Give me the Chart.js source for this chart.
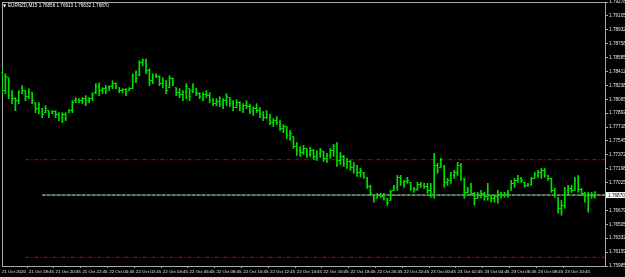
<!DOCTYPE html>
<html><head><meta charset="utf-8">
<style>html,body{margin:0;padding:0;background:#000;}#wrap{width:625px;height:277px;position:relative;background:#000;}</style>
<script src="https://cdn.jsdelivr.net/npm/chart.js@4/dist/chart.umd.min.js"></script>
</head><body><div id="wrap"><canvas id="c" width="625" height="277"></canvas></div>
<script>
const symbolTitle = "EURNZD,M15";
const timeLabels = ["21 Oct 2020","21 Oct 18:45","21 Oct 20:45","21 Oct 22:45","22 Oct 00:45","22 Oct 02:45","22 Oct 04:45","22 Oct 06:45","22 Oct 08:45","22 Oct 10:45","22 Oct 12:45","22 Oct 14:45","22 Oct 16:45","22 Oct 18:45","22 Oct 20:45","22 Oct 22:45","23 Oct 00:45","23 Oct 02:45","23 Oct 04:45","23 Oct 06:45","23 Oct 08:45","23 Oct 10:45"];
const barsPerLabel = 8;
const slotCount = 181;
const priceTicks = [1.79278,1.79105,1.78932,1.78758,1.78585,1.78412,1.78238,1.78065,1.77892,1.77718,1.77545,1.77372,1.77198,1.77025,1.76852,1.76679,1.76505,1.76332,1.76159,1.75985];
const highs = [
1.78445,1.78383,1.78333,1.78172,1.78085,1.78172,1.78234,1.78172,1.78197,1.78147,
1.78023,1.78023,1.77948,1.77985,1.77923,1.77923,1.77923,1.77898,1.77898,1.77898,
1.77936,1.78047,1.78085,1.78072,1.78085,1.78110,1.78085,1.78147,1.78259,1.78271,
1.78209,1.78234,1.78234,1.78296,1.78271,1.78209,1.78197,1.78197,1.78209,1.78383,
1.78420,1.78544,1.78569,1.78569,1.78445,1.78383,1.78383,1.78358,1.78333,1.78296,
1.78358,1.78333,1.78209,1.78197,1.78172,1.78259,1.78197,1.78259,1.78197,1.78147,
1.78147,1.78172,1.78147,1.78072,1.78072,1.78097,1.78072,1.78134,1.78085,1.78047,
1.78060,1.78035,1.78010,1.78047,1.77998,1.77973,1.78010,1.77960,1.77911,1.77923,
1.77873,1.77824,1.77849,1.77799,1.77749,1.77724,1.77675,1.77600,1.77526,1.77476,
1.77488,1.77451,1.77463,1.77439,1.77426,1.77451,1.77414,1.77389,1.77451,1.77501,
1.77526,1.77401,1.77364,1.77327,1.77302,1.77277,1.77240,1.77202,1.77153,1.77091,
1.76991,1.76867,1.76892,1.76892,1.76892,1.76830,1.76929,1.76991,1.77115,1.77115,
1.77053,1.77091,1.77028,1.76966,1.77028,1.77028,1.77016,1.77016,1.77016,1.77389,
1.77265,1.77327,1.77240,1.77078,1.77153,1.77178,1.77277,1.77265,1.77078,1.76966,
1.77016,1.76904,1.76904,1.76929,1.76904,1.77016,1.76867,1.76867,1.76929,1.76904,
1.76904,1.76929,1.77053,1.77078,1.77115,1.77091,1.77028,1.77016,1.77091,1.77153,
1.77178,1.77202,1.77202,1.77115,1.77078,1.76954,1.76842,1.76805,1.76966,1.76991,
1.76991,1.77091,1.77115,1.76954,1.76904,1.76904,1.76904,1.76913];
const lows = [
1.78134,1.78134,1.78072,1.78010,1.77923,1.78010,1.78134,1.78047,1.78072,1.78010,
1.77898,1.77886,1.77836,1.77898,1.77836,1.77886,1.77836,1.77799,1.77774,1.77799,
1.77898,1.77898,1.78023,1.78023,1.78010,1.77985,1.78023,1.78047,1.78134,1.78110,
1.78134,1.78134,1.78172,1.78197,1.78197,1.78147,1.78147,1.78110,1.78172,1.78197,
1.78271,1.78358,1.78482,1.78383,1.78234,1.78259,1.78333,1.78234,1.78209,1.78134,
1.78209,1.78234,1.78110,1.78085,1.78047,1.78072,1.78047,1.78147,1.78110,1.78072,
1.78047,1.78085,1.78023,1.77985,1.77985,1.77973,1.77948,1.77985,1.77973,1.77923,
1.77960,1.77923,1.77898,1.77948,1.77886,1.77861,1.77898,1.77836,1.77799,1.77824,
1.77749,1.77724,1.77749,1.77675,1.77650,1.77575,1.77550,1.77451,1.77364,1.77352,
1.77376,1.77339,1.77352,1.77314,1.77302,1.77339,1.77289,1.77277,1.77327,1.77352,
1.77227,1.77252,1.77227,1.77202,1.77178,1.77140,1.77103,1.77091,1.77078,1.76954,
1.76867,1.76780,1.76830,1.76842,1.76805,1.76743,1.76805,1.76929,1.76929,1.76991,
1.76966,1.77016,1.76929,1.76904,1.76929,1.76966,1.76954,1.76892,1.76842,1.76830,
1.77140,1.77215,1.76966,1.76991,1.77016,1.77078,1.77115,1.77053,1.76830,1.76892,
1.76867,1.76743,1.76830,1.76830,1.76805,1.76805,1.76780,1.76780,1.76768,1.76830,
1.76842,1.76842,1.76929,1.76966,1.77028,1.77028,1.76966,1.76979,1.76991,1.77078,
1.77091,1.77078,1.77091,1.77053,1.76904,1.76842,1.76643,1.76618,1.76705,1.76867,
1.76904,1.76929,1.76904,1.76867,1.76780,1.76656,1.76830,1.76832];
const opens = [
1.78395,1.78172,1.78333,1.78110,1.78072,1.78047,1.78147,1.78172,1.78097,1.78147,
1.78023,1.77948,1.77948,1.77898,1.77923,1.77886,1.77911,1.77873,1.77836,1.77873,
1.77898,1.77923,1.78047,1.78060,1.78047,1.78072,1.78047,1.78072,1.78147,1.78221,
1.78172,1.78197,1.78209,1.78221,1.78259,1.78209,1.78172,1.78184,1.78172,1.78197,
1.78358,1.78358,1.78520,1.78544,1.78420,1.78296,1.78358,1.78346,1.78259,1.78296,
1.78209,1.78321,1.78209,1.78147,1.78122,1.78147,1.78197,1.78172,1.78197,1.78134,
1.78097,1.78122,1.78110,1.78047,1.78010,1.78035,1.77998,1.78047,1.78085,1.78010,
1.77960,1.78023,1.77948,1.77985,1.77973,1.77911,1.77948,1.77923,1.77861,1.77836,
1.77873,1.77774,1.77799,1.77774,1.77699,1.77724,1.77612,1.77600,1.77476,1.77426,
1.77401,1.77451,1.77376,1.77426,1.77352,1.77389,1.77414,1.77327,1.77364,1.77426,
1.77476,1.77302,1.77352,1.77265,1.77289,1.77215,1.77240,1.77153,1.77153,1.77091,
1.76979,1.76867,1.76830,1.76867,1.76855,1.76830,1.76805,1.76929,1.76966,1.77091,
1.77028,1.77041,1.77028,1.76954,1.76941,1.77004,1.76991,1.76979,1.76929,1.76867,
1.77240,1.77215,1.77240,1.77028,1.77053,1.77115,1.77153,1.77240,1.77078,1.76904,
1.76929,1.76892,1.76830,1.76867,1.76892,1.76855,1.76867,1.76830,1.76855,1.76879,
1.76867,1.76879,1.76929,1.77016,1.77053,1.77078,1.77028,1.76991,1.77004,1.77078,
1.77128,1.77153,1.77178,1.77115,1.77078,1.76929,1.76842,1.76705,1.76743,1.76929,
1.76954,1.76929,1.77053,1.76941,1.76892,1.76855,1.76867,1.76856];
const closes = [
1.78172,1.78346,1.78110,1.78072,1.78047,1.78147,1.78172,1.78097,1.78147,1.78047,
1.77948,1.77998,1.77873,1.77948,1.77861,1.77911,1.77873,1.77836,1.77873,1.77824,
1.77923,1.78023,1.78060,1.78047,1.78072,1.78047,1.78072,1.78122,1.78221,1.78172,
1.78197,1.78209,1.78221,1.78259,1.78209,1.78172,1.78184,1.78147,1.78197,1.78358,
1.78321,1.78520,1.78544,1.78420,1.78296,1.78358,1.78346,1.78259,1.78296,1.78172,
1.78321,1.78246,1.78147,1.78122,1.78147,1.78221,1.78097,1.78221,1.78134,1.78097,
1.78122,1.78110,1.78047,1.78010,1.78035,1.77998,1.78047,1.78097,1.78010,1.77960,
1.78023,1.77948,1.77985,1.77973,1.77911,1.77948,1.77923,1.77861,1.77836,1.77873,
1.77774,1.77799,1.77774,1.77699,1.77724,1.77612,1.77637,1.77476,1.77426,1.77401,
1.77451,1.77376,1.77426,1.77352,1.77389,1.77426,1.77327,1.77364,1.77426,1.77476,
1.77302,1.77352,1.77265,1.77289,1.77215,1.77240,1.77153,1.77178,1.77103,1.76979,
1.76892,1.76830,1.76867,1.76855,1.76830,1.76780,1.76917,1.76966,1.77091,1.77028,
1.77041,1.77053,1.76954,1.76941,1.77004,1.76991,1.76979,1.76929,1.76867,1.77240,
1.77178,1.77302,1.77028,1.77053,1.77115,1.77153,1.77240,1.77078,1.76904,1.76929,
1.76892,1.76830,1.76867,1.76892,1.76855,1.76929,1.76830,1.76855,1.76879,1.76867,
1.76879,1.76904,1.77016,1.77053,1.77078,1.77053,1.76991,1.77004,1.77078,1.77128,
1.77153,1.77178,1.77115,1.77078,1.76929,1.76867,1.76705,1.76743,1.76929,1.76954,
1.76929,1.77053,1.76941,1.76892,1.76855,1.76867,1.76879,1.76870];
const upperLevel = 1.77311;
const lowerLevel = 1.76093;
const levelStart = 7;
const bidLineStart = 12;

const BAR = '#00e000', AXIS = '#a8a8a8', TXT = '#e6e6e6', LEVEL = '#d40000';
const slotLabels = Array.from({length: slotCount}, (_, i) =>
  (i % barsPerLabel === 0 && i / barsPerLabel < timeLabels.length) ? timeLabels[i / barsPerLabel] : '');
const lastIdx = closes.length - 1;
const levelData = (v, start) => Array.from({length: slotCount}, (_, i) => i >= start ? v : null);

function tickImg(side) {
  const c = document.createElement('canvas'); c.width = 3; c.height = 1;
  const g = c.getContext('2d'); g.fillStyle = BAR;
  g.fillRect(side === 'left' ? 0 : 2, 0, 1, 1);
  return c;
}
const openImg = tickImg('left'), closeImg = tickImg('right');

const overlay = {
  id: 'overlay',
  afterDraw(chart) {
    const ctx = chart.ctx, a = chart.chartArea, ys = chart.scales.y;
    ctx.save();
    ctx.textBaseline = 'middle';
    ctx.fillStyle = '#ffffff';
    ctx.font = '4px "DejaVu Sans"';
    ctx.fillText('\u25BC', a.left + 1, a.top + 4);
    ctx.font = '4.6px "Liberation Sans"';
    const hdr = symbolTitle + ' ' + [opens[lastIdx], highs[lastIdx], lows[lastIdx], closes[lastIdx]].map(v => v.toFixed(5)).join(' ');
    ctx.fillText(hdr, a.left + 6, a.top + 4);
    const py = ys.getPixelForValue(closes[lastIdx]);
    ctx.fillRect(a.right + 1, py - 3, 19, 6);
    ctx.fillStyle = '#000';
    ctx.font = '4.7px "Liberation Sans"';
    ctx.fillText(closes[lastIdx].toFixed(5), a.right + 3, py + 0.3);
    ctx.restore();
  }
};

new Chart(document.getElementById('c'), {
  type: 'bar',
  data: {
    labels: slotLabels,
    datasets: [
      { type: 'line', data: levelData(upperLevel, levelStart), borderColor: LEVEL, borderWidth: 1, borderDash: [4, 2, 1, 2], pointRadius: 0, order: 5 },
      { type: 'line', data: levelData(lowerLevel, levelStart), borderColor: LEVEL, borderWidth: 1, borderDash: [4, 2, 1, 2], pointRadius: 0, order: 5 },
      { type: 'line', data: levelData(closes[lastIdx], bidLineStart), borderColor: '#7d8a80', borderWidth: 1, pointRadius: 0, order: 4 },
      { type: 'line', data: levelData(closes[lastIdx], bidLineStart), borderColor: '#74d47c', borderWidth: 1, borderDash: [3, 2], pointRadius: 0, order: 3 },
      { type: 'bar', data: highs.map((h, i) => [lows[i], h]), backgroundColor: BAR, borderWidth: 0, barThickness: 1, order: 2 },
      { type: 'line', data: opens, showLine: false, pointStyle: openImg, pointRadius: 1, pointHoverRadius: 1, order: 1 },
      { type: 'line', data: closes, showLine: false, pointStyle: closeImg, pointRadius: 1, pointHoverRadius: 1, order: 1 }
    ]
  },
  options: {
    responsive: false,
    animation: false,
    events: [],
    layout: { padding: { left: 2, top: 1, right: 0, bottom: 0 } },
    plugins: { legend: { display: false }, tooltip: { enabled: false } },
    scales: {
      x: {
        type: 'category', offset: false, position: 'bottom',
        grid: { drawOnChartArea: false, drawTicks: true, tickLength: 2,
                color: (c) => (c.tick && c.tick.label) ? AXIS : 'rgba(0,0,0,0)' },
        border: { color: AXIS, width: 1 },
        ticks: { autoSkip: false, maxRotation: 0, minRotation: 0, align: 'start', padding: 1,
                 color: TXT, font: { family: 'Liberation Sans', size: 4.4 } },
        afterFit: (s) => { s.height = 11; s.paddingLeft = 0; s.paddingRight = 0; }
      },
      x2: {
        type: 'category', position: 'top', offset: false,
        grid: { display: false }, ticks: { display: false },
        border: { color: AXIS, width: 1 },
        afterFit: (s) => { s.height = 0; s.paddingLeft = 0; s.paddingRight = 0; }
      },
      y: {
        type: 'linear', position: 'right', min: priceTicks[priceTicks.length - 1], max: priceTicks[0],
        afterBuildTicks: (s) => { s.ticks = priceTicks.map(v => ({ value: v })); },
        grid: { drawOnChartArea: false, drawTicks: true, tickLength: 3, color: AXIS },
        border: { color: AXIS, width: 1 },
        ticks: { padding: 1, color: TXT, font: { family: 'Liberation Sans', size: 4.7 },
                 callback: (v) => Number(v).toFixed(5) },
        afterFit: (s) => { s.width = 20; s.paddingTop = 0; s.paddingBottom = 0; }
      },
      y2: {
        type: 'linear', position: 'left',
        grid: { display: false }, ticks: { display: false },
        border: { color: AXIS, width: 1 },
        afterFit: (s) => { s.width = 0; s.paddingTop = 0; s.paddingBottom = 0; }
      }
    }
  },
  plugins: [overlay]
});
</script>
</body></html>
